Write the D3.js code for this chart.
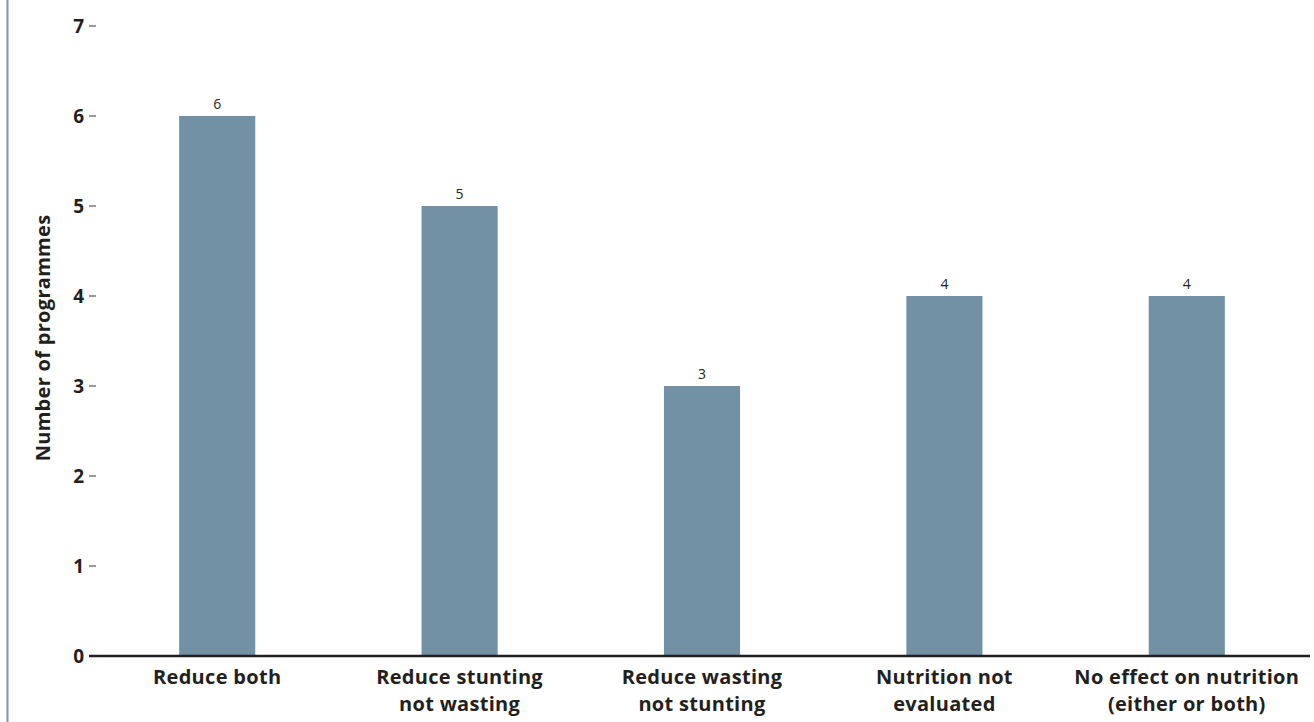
<!DOCTYPE html>
<html><head><meta charset="utf-8">
<script src="https://cdn.jsdelivr.net/npm/d3@7"></script>
<style>body{margin:0;background:#fff;}svg{display:block;font-family:"Open Sans",Lato,sans-serif;}</style>
</head><body>
<svg id="c" width="1314" height="722"></svg>
<script>
const categories = [["Reduce both"],["Reduce stunting","not wasting"],["Reduce wasting","not stunting"],["Nutrition not","evaluated"],["No effect on nutrition","(either or both)"]];
const values = [6,5,3,4,4];
const yTicks = [0,1,2,3,4,5,6,7];
const yTitle = "Number of programmes";

const svg = d3.select("#c");
svg.append("rect").attr("x",6.5).attr("y",0).attr("width",2).attr("height",722).attr("fill","#7f98ad");

const x = d3.scaleBand().domain(d3.range(values.length)).range([96,1308]).paddingInner(0.686).paddingOuter(0.343);
const y = d3.scaleLinear().domain([0,7]).range([656,26]);

// y axis ticks
const yg = svg.append("g");
yTicks.forEach(t=>{
  if(t>0) yg.append("line").attr("x1",89).attr("x2",96).attr("y1",y(t)).attr("y2",y(t)).attr("stroke","#333").attr("stroke-width",1);
  yg.append("text").attr("x",84).attr("y",y(t)).attr("dy","0.36em").attr("text-anchor","end")
    .attr("font-size",19).attr("font-weight","bold").attr("fill","#231f20").text(t);
});
svg.append("text").attr("transform","translate(50,338) rotate(-90)").attr("text-anchor","middle")
  .attr("font-size",20).attr("letter-spacing",0.3).attr("font-weight","bold").attr("fill","#231f20").text(yTitle);

// bars
svg.selectAll("rect.bar").data(values).join("rect").attr("class","bar")
  .attr("x",(d,i)=>x(i)).attr("width",x.bandwidth()).attr("y",d=>y(d)).attr("height",d=>y(0)-y(d)).attr("fill","#7291a5");
svg.selectAll("text.val").data(values).join("text").attr("class","val")
  .attr("x",(d,i)=>x(i)+x.bandwidth()/2).attr("y",d=>y(d)-7).attr("text-anchor","middle")
  .attr("font-size",14).attr("fill","#231f20").text(d=>d);

// baseline
svg.append("line").attr("x1",89).attr("x2",1310).attr("y1",656).attr("y2",656).attr("stroke","#231f20").attr("stroke-width",2.5);

// x labels
categories.forEach((lines,i)=>{
  const t = svg.append("text").attr("x",x(i)+x.bandwidth()/2).attr("y",684).attr("text-anchor","middle")
    .attr("font-size",20).attr("letter-spacing",0.3).attr("font-weight","bold").attr("fill","#231f20");
  lines.forEach((l,j)=>t.append("tspan").attr("x",x(i)+x.bandwidth()/2).attr("dy",j?27:0).text(l));
});
</script>
</body></html>
